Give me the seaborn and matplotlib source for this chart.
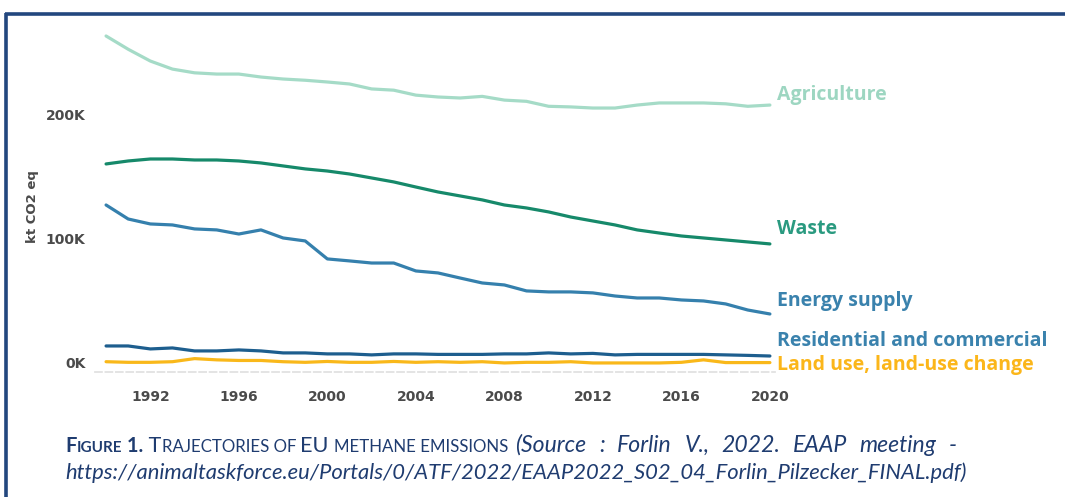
import matplotlib
matplotlib.use("Agg")
import matplotlib.pyplot as plt
from matplotlib.lines import Line2D
from matplotlib.ticker import FuncFormatter
import pandas as pd
import seaborn as sns

# EU methane emissions, kt CO2 eq
years = list(range(1990, 2021))
agriculture = [263.7, 253.0, 243.5, 237.0, 234.0, 233.0, 233.0, 230.6, 229.0, 228.0, 226.6,
               225.0, 221.0, 220.0, 216.0, 214.5, 213.7, 215.0, 212.0, 211.0, 207.0,
               206.5, 205.6, 205.6, 208.0, 209.7, 209.7, 209.7, 209.0, 207.0, 208.0]
waste = [160.5, 162.9, 164.5, 164.5, 163.7, 163.7, 162.9, 161.3, 158.9, 156.5, 154.8,
         152.4, 149.2, 146.0, 141.9, 137.9, 134.7, 131.5, 127.4, 125.0, 121.8,
         117.7, 114.5, 111.3, 107.3, 104.8, 102.4, 100.8, 99.2, 97.6, 96.0]
energy_supply = [127.4, 116.1, 112.1, 111.3, 108.1, 107.3, 104.0, 107.3, 100.8, 98.4, 83.9,
                 82.3, 80.6, 80.6, 74.2, 72.6, 68.5, 64.5, 62.9, 58.1, 57.3,
                 57.3, 56.5, 54.0, 52.4, 52.4, 50.8, 50.0, 47.6, 42.7, 39.5]
residential = [13.7, 13.7, 11.3, 12.1, 9.7, 9.7, 10.5, 9.7, 8.1, 8.1, 7.3,
               7.3, 6.5, 7.3, 7.3, 6.9, 6.9, 6.9, 7.3, 7.3, 8.1,
               7.3, 7.7, 6.5, 6.9, 6.9, 6.9, 6.9, 6.5, 6.1, 5.6]
land_use = [1.0, 0.5, 0.5, 1.0, 3.5, 2.5, 2.0, 2.0, 1.0, 0.5, 1.2,
            0.5, 0.5, 1.2, 0.5, 1.0, 0.5, 1.0, 0.0, 0.5, 0.5,
            1.0, 0.0, 0.0, 0.0, 0.0, 0.5, 2.5, 0.3, 0.3, 0.3]

sectors = ["Agriculture", "Waste", "Energy supply",
           "Residential and commercial", "Land use, land-use change"]
line_colors = ["#a5dbc7", "#16896a", "#3580ad", "#1d5e8e", "#f9b81a"]
text_colors = ["#9dd6c1", "#2a9a80", "#3a82ad", "#3a82ad", "#fbb61a"]
# label offset from the line end, pixels (x, y)
label_offsets = [(7, 10), (7, 15), (7, 13), (7, 15), (7, -2)]

df = pd.DataFrame({"year": years, sectors[0]: agriculture, sectors[1]: waste,
                   sectors[2]: energy_supply, sectors[3]: residential, sectors[4]: land_use})
long_df = df.melt(id_vars="year", var_name="sector", value_name="kt")

sns.set_theme(style="white")
plt.rcParams["font.family"] = ["DejaVu Sans"]

W, H = 1065, 497
fig = plt.figure(figsize=(W / 100, H / 100), dpi=100)
fig.patch.set_facecolor("white")

ax = fig.add_axes([95 / W, 125 / H, 680 / W, 352 / H])
sns.lineplot(data=long_df, x="year", y="kt", hue="sector", palette=dict(zip(sectors, line_colors)),
             hue_order=sectors, linewidth=2.3, legend=False, ax=ax)

ax.set_xlim(1989.5, 2020.23)
ax.set_ylim(-7.3, 276.6)
ax.set_xticks([1992, 1996, 2000, 2004, 2008, 2012, 2016, 2020])
ax.set_yticks([0, 100, 200])
ax.yaxis.set_major_formatter(FuncFormatter(lambda v, p: f"{v:.0f}K"))
ax.tick_params(axis="both", length=4, width=0.8, color="#e4e4e4", labelcolor="#4a4a4a",
               labelsize=10, pad=3)
ax.tick_params(axis="x", pad=9)
for lab in ax.get_xticklabels() + ax.get_yticklabels():
    lab.set_fontweight("bold")
for s in ["top", "right", "left"]:
    ax.spines[s].set_visible(False)
ax.spines["bottom"].set_color("#e0e0e0")
ax.spines["bottom"].set_linestyle((0, (4, 2)))
ax.set_xlabel("")
ax.set_ylabel("kt CO2 eq", fontsize=9.5, color="#4a4a4a", fontweight="semibold")
ax.yaxis.set_label_coords(-0.082, 0.47)
ax.grid(False)

# direct labels at the line ends
for name, col, off in zip(sectors, text_colors, label_offsets):
    ax.annotate(name, xy=(years[-1], df[name].iloc[-1]), xytext=off, textcoords="offset pixels",
                ha="left", va="center", fontsize=14, fontweight="bold", color=col,
                family="Open Sans", annotation_clip=False)

# frame of the document box
navy = "#23477e"
fig.add_artist(Line2D([5 / W, 1], [1 - 14 / H, 1 - 14 / H], color=navy, lw=2.6,
                      transform=fig.transFigure, solid_capstyle="butt"))
fig.add_artist(Line2D([6 / W, 6 / W], [0, 1 - 13 / H], color=navy, lw=2.6,
                      transform=fig.transFigure, solid_capstyle="butt"))

# caption, drawn run by run to mimic small caps
cap_color = "#1f3c70"
renderer = fig.canvas.get_renderer()


def put(x_px, y_px, text, size, weight, style):
    t = fig.text(x_px / W, 1 - y_px / H, text, fontsize=size, fontweight=weight, style=style,
                 color=cap_color, family="Lato", va="baseline", ha="left")
    return t.get_window_extent(renderer).width


def draw_runs(x_px, y_px, runs):
    x = x_px
    for text, size, weight, style in runs:
        x += put(x, y_px, text, size, weight, style)
    return x


def draw_justified(x_px, x_end, y_px, words, size, style):
    # the source caption line is justified, so spread the words to the right edge
    probe = [fig.text(0, 0, w, fontsize=size, style=style, family="Lato") for w in words]
    widths = [p.get_window_extent(renderer).width for p in probe]
    for p in probe:
        p.remove()
    gap = (x_end - x_px - sum(widths)) / (len(words) - 1)
    x = x_px
    for w, wd in zip(words, widths):
        put(x, y_px, w, size, "normal", style)
        x += wd + gap


big, small = 15.6, 12.2
x1 = draw_runs(65, 452, [("F", 14.5, "bold", "normal"), ("IGURE", 11, "bold", "normal"),
                         (" 1.", 14.5, "bold", "normal"), (" T", big, "normal", "normal"),
                         ("RAJECTORIES OF ", small, "normal", "normal"), ("EU ", big, "normal", "normal"),
                         ("METHANE EMISSIONS", small, "normal", "normal")])
draw_justified(x1 + 7, 957, 452, "(Source : Forlin V., 2022. EAAP meeting -".split(), 16.6, "italic")
draw_runs(65, 479, [("https://animaltaskforce.eu/Portals/0/ATF/2022/EAAP2022_S02_04_Forlin_Pilzecker_FINAL.pdf)",
                     15.8, "normal", "italic")])

fig.savefig("out.png", dpi=100, facecolor="white")
